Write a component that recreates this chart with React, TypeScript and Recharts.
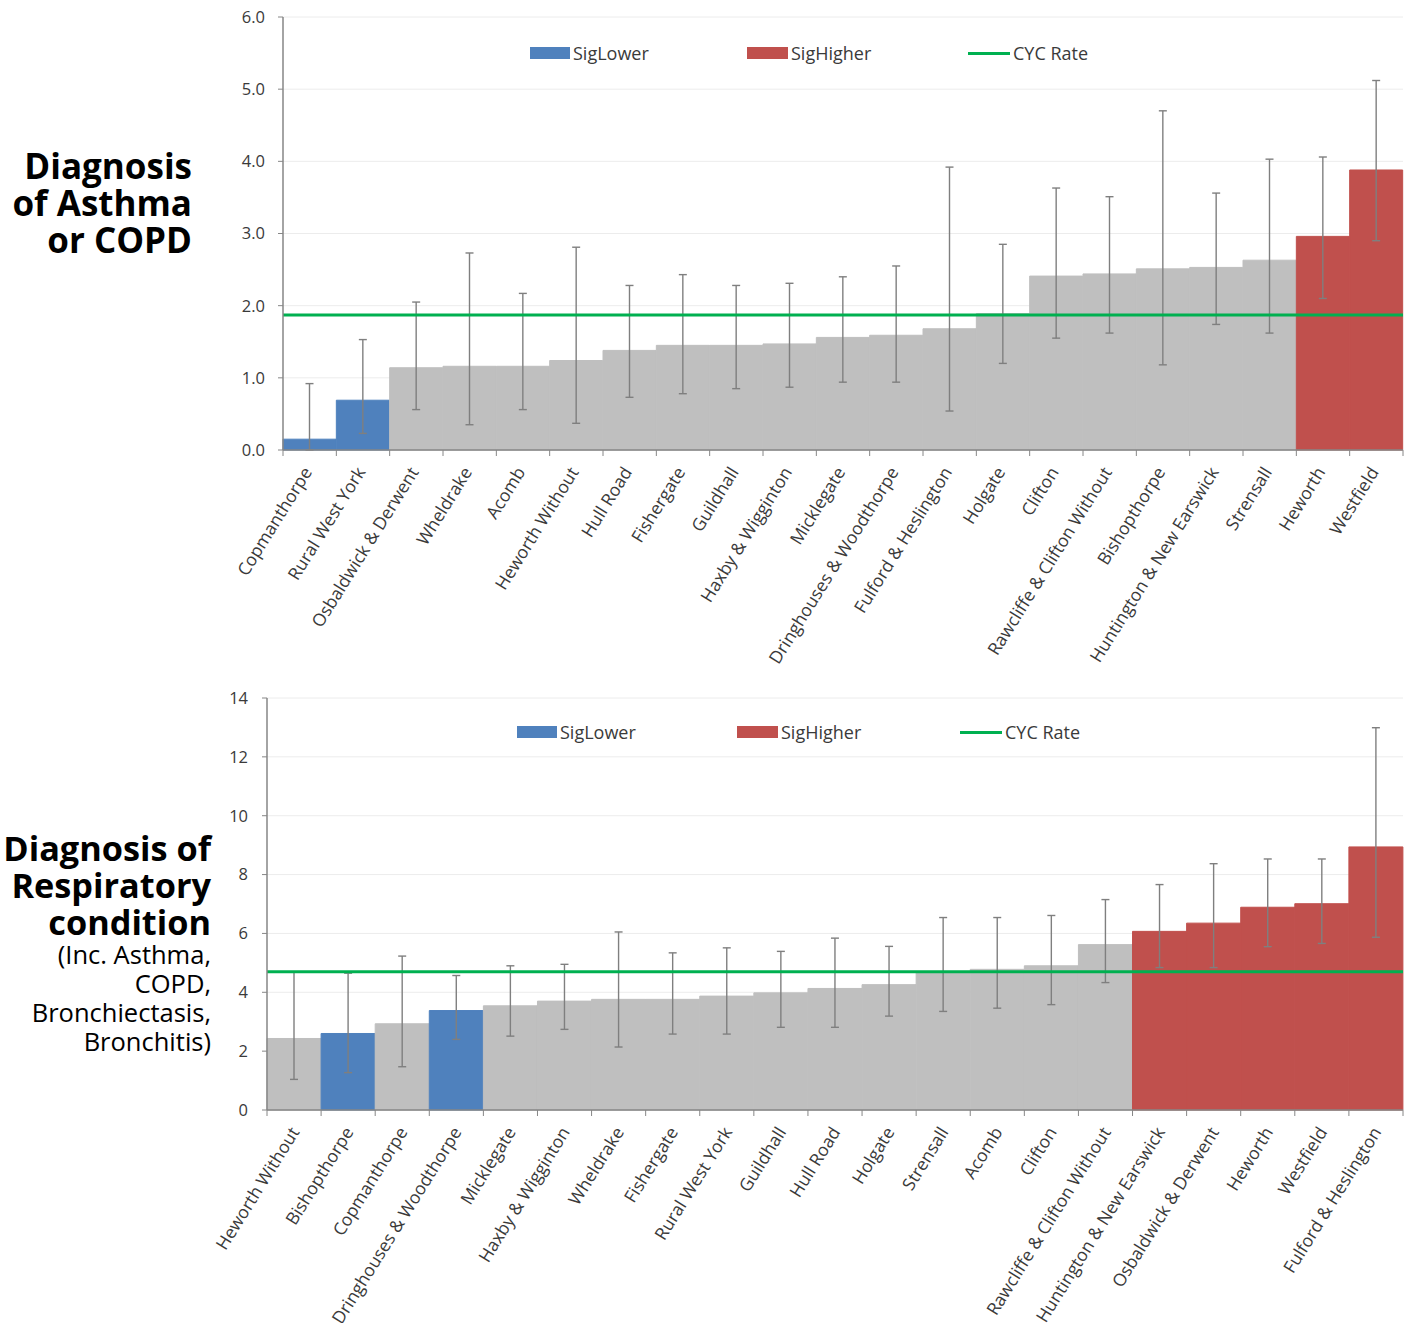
import React from 'react';
import { ComposedChart, Bar, Cell, ErrorBar, XAxis, YAxis, CartesianGrid, ReferenceLine } from 'recharts';

const FONT = '"Open Sans", "Noto Sans", sans-serif';

// ---- Chart 1: Diagnosis of Asthma or COPD ----
const asthmaCategories = [
  'Copmanthorpe', 'Rural West York', 'Osbaldwick & Derwent', 'Wheldrake', 'Acomb',
  'Heworth Without', 'Hull Road', 'Fishergate', 'Guildhall', 'Haxby & Wigginton',
  'Micklegate', 'Dringhouses & Woodthorpe', 'Fulford & Heslington', 'Holgate', 'Clifton',
  'Rawcliffe & Clifton Without', 'Bishopthorpe', 'Huntington & New Earswick', 'Strensall',
  'Heworth', 'Westfield',
];
const asthmaValues = [0.15, 0.69, 1.14, 1.16, 1.16, 1.24, 1.38, 1.45, 1.45, 1.47, 1.56, 1.59, 1.68, 1.89, 2.41, 2.44, 2.51, 2.53, 2.63, 2.96, 3.88];
const asthmaLower = [0.0, 0.23, 0.56, 0.35, 0.56, 0.37, 0.73, 0.78, 0.85, 0.87, 0.94, 0.94, 0.54, 1.2, 1.55, 1.62, 1.18, 1.74, 1.62, 2.1, 2.9];
const asthmaUpper = [0.92, 1.53, 2.05, 2.73, 2.17, 2.81, 2.28, 2.43, 2.28, 2.31, 2.4, 2.55, 3.92, 2.85, 3.63, 3.51, 4.7, 3.56, 4.03, 4.06, 5.12];
const asthmaStatus = ['L', 'L', 'N', 'N', 'N', 'N', 'N', 'N', 'N', 'N', 'N', 'N', 'N', 'N', 'N', 'N', 'N', 'N', 'N', 'H', 'H'];
const asthmaRate = 1.87;
const asthmaTicks = [0, 1, 2, 3, 4, 5, 6];

// ---- Chart 2: Diagnosis of Respiratory condition ----
const respCategories = [
  'Heworth Without', 'Bishopthorpe', 'Copmanthorpe', 'Dringhouses & Woodthorpe', 'Micklegate',
  'Haxby & Wigginton', 'Wheldrake', 'Fishergate', 'Rural West York', 'Guildhall',
  'Hull Road', 'Holgate', 'Strensall', 'Acomb', 'Clifton',
  'Rawcliffe & Clifton Without', 'Huntington & New Earswick', 'Osbaldwick & Derwent', 'Heworth',
  'Westfield', 'Fulford & Heslington',
];
const respValues = [2.43, 2.6, 2.93, 3.38, 3.54, 3.7, 3.76, 3.76, 3.87, 3.98, 4.13, 4.26, 4.66, 4.78, 4.9, 5.62, 6.07, 6.35, 6.89, 7.01, 8.94];
const respLower = [1.04, 1.27, 1.47, 2.4, 2.51, 2.74, 2.14, 2.58, 2.58, 2.81, 2.81, 3.19, 3.35, 3.46, 3.58, 4.33, 4.84, 4.84, 5.55, 5.66, 5.87];
const respUpper = [4.69, 4.65, 5.23, 4.57, 4.9, 4.95, 6.05, 5.34, 5.51, 5.39, 5.84, 5.56, 6.54, 6.54, 6.61, 7.15, 7.66, 8.37, 8.53, 8.53, 12.99];
const respStatus = ['N', 'L', 'N', 'L', 'N', 'N', 'N', 'N', 'N', 'N', 'N', 'N', 'N', 'N', 'N', 'N', 'H', 'H', 'H', 'H', 'H'];
const respRate = 4.7;
const respTicks = [0, 2, 4, 6, 8, 10, 12, 14];

const legendLabels = ['SigLower', 'SigHigher', 'CYC Rate'];

const COLORS: Record<string, string> = { N: '#BFBFBF', L: '#4F81BD', H: '#C0504D' };
const RATE_COLOR = '#00B050';
const AXIS_COLOR = '#868686';
const TEXT_COLOR = '#3a3a3a';

function buildRows(cats: string[], vals: number[], lo: number[], hi: number[], status: string[]) {
  return cats.map((name, i) => ({
    name,
    value: vals[i],
    err: [vals[i] - lo[i], hi[i] - vals[i]],
    status: status[i],
  }));
}

function makeTick(half: number, count: number, angle: number, dx: number, dy: number) {
  return function Tick(props: any) {
    const { x, y, payload, index } = props;
    const ax = x + dx;
    const ay = y + dy;
    return (
      <g>
        <line x1={x - half} x2={x - half} y1={y} y2={y + 6} stroke={AXIS_COLOR} strokeWidth={1} />
        {index === count - 1 && (
          <line x1={x + half} x2={x + half} y1={y} y2={y + 6} stroke={AXIS_COLOR} strokeWidth={1} />
        )}
        <text
          x={ax}
          y={ay}
          textAnchor="end"
          transform={`rotate(${angle}, ${ax}, ${ay})`}
          fontSize={17.5}
          fill={TEXT_COLOR}
          fontFamily={FONT}
        >
          {payload.value}
        </text>
      </g>
    );
  };
}

type ChartProps = {
  rows: any[];
  ticks: number[];
  rate: number;
  width: number;
  height: number;
  plotLeft: number;
  plotRight: number;
  marginTop: number;
  xAxisHeight: number;
  decimals: number;
  yTickMargin: number;
  labelDx: number;
  labelDy: number;
};

function RateChart(p: ChartProps) {
  const plotWidth = p.width - p.plotLeft - p.plotRight;
  const half = plotWidth / p.rows.length / 2;
  const Tick = makeTick(half, p.rows.length, -58, p.labelDx, p.labelDy);
  return (
    <ComposedChart
      width={p.width}
      height={p.height}
      data={p.rows}
      margin={{ top: p.marginTop, right: p.plotRight, left: 0, bottom: 0 }}
      barCategoryGap={0}
      barGap={0}
    >
      <CartesianGrid vertical={false} stroke="#ececec" strokeWidth={1} />
      <XAxis
        dataKey="name"
        interval={0}
        height={p.xAxisHeight}
        tickLine={false}
        tickSize={0}
        tickMargin={0}
        axisLine={{ stroke: AXIS_COLOR, strokeWidth: 1.5 }}
        tick={<Tick />}
      />
      <YAxis
        width={p.plotLeft}
        domain={[p.ticks[0], p.ticks[p.ticks.length - 1]]}
        ticks={p.ticks}
        interval={0}
        tickFormatter={(v: number) => v.toFixed(p.decimals)}
        tickSize={5}
        tickMargin={p.yTickMargin}
        tickLine={{ stroke: AXIS_COLOR }}
        axisLine={{ stroke: AXIS_COLOR, strokeWidth: 1.5 }}
        tick={{ fontSize: 16.5, fill: TEXT_COLOR, fontFamily: FONT }}
      />
      <Bar dataKey="value" isAnimationActive={false}>
        {p.rows.map((r, i) => (
          <Cell key={i} fill={COLORS[r.status]} stroke={COLORS[r.status]} strokeWidth={1} />
        ))}
        <ErrorBar dataKey="err" width={4} stroke="#7f7f7f" strokeWidth={1.4} direction="y" />
      </Bar>
      <ReferenceLine y={p.rate} stroke={RATE_COLOR} strokeWidth={3} />
    </ComposedChart>
  );
}

function LegendRow({ y, xs }: { y: number; xs: number[] }) {
  const textStyle: React.CSSProperties = {
    position: 'absolute',
    top: y - 13,
    fontSize: 18,
    lineHeight: '26px',
    fontFamily: FONT,
    color: TEXT_COLOR,
    whiteSpace: 'nowrap',
  };
  return (
    <>
      <div style={{ position: 'absolute', left: xs[0], top: y - 6, width: 40, height: 12, background: COLORS.L }} />
      <div style={{ ...textStyle, left: xs[0] + 43 }}>{legendLabels[0]}</div>
      <div style={{ position: 'absolute', left: xs[1], top: y - 6, width: 41, height: 12, background: COLORS.H }} />
      <div style={{ ...textStyle, left: xs[1] + 44 }}>{legendLabels[1]}</div>
      <div style={{ position: 'absolute', left: xs[2], top: y - 1.5, width: 42, height: 3, background: RATE_COLOR }} />
      <div style={{ ...textStyle, left: xs[2] + 45 }}>{legendLabels[2]}</div>
    </>
  );
}

export default function App() {
  const asthmaRows = buildRows(asthmaCategories, asthmaValues, asthmaLower, asthmaUpper, asthmaStatus);
  const respRows = buildRows(respCategories, respValues, respLower, respUpper, respStatus);

  const titleBold: React.CSSProperties = {
    fontFamily: FONT,
    fontWeight: 700,
    fontSize: 35,
    lineHeight: '37px',
    color: '#000',
  };
  const titleReg: React.CSSProperties = {
    fontFamily: FONT,
    fontWeight: 400,
    fontSize: 25.5,
    lineHeight: '29px',
    color: '#000',
  };

  return (
    <div style={{ position: 'absolute', left: 0, top: 0, width: 1415, height: 1323, background: '#fff', overflow: 'hidden' }}>
      <div style={{ position: 'absolute', left: 0, top: 0 }}>
        <RateChart
          rows={asthmaRows}
          ticks={asthmaTicks}
          rate={asthmaRate}
          width={1415}
          height={680}
          plotLeft={283}
          plotRight={12}
          marginTop={17}
          xAxisHeight={230}
          decimals={1}
          yTickMargin={13}
          labelDx={3}
          labelDy={22}
        />
      </div>
      <div style={{ position: 'absolute', left: 0, top: 680 }}>
        <RateChart
          rows={respRows}
          ticks={respTicks}
          rate={respRate}
          width={1415}
          height={643}
          plotLeft={267}
          plotRight={12}
          marginTop={18}
          xAxisHeight={213}
          decimals={0}
          yTickMargin={14}
          labelDx={6}
          labelDy={22}
        />
      </div>

      <LegendRow y={53} xs={[530, 747, 968]} />
      <LegendRow y={732} xs={[517, 737, 960]} />

      <div style={{ position: 'absolute', left: 0, top: 147, width: 192, textAlign: 'right', ...titleBold }}>
        Diagnosis<br />of Asthma<br />or COPD
      </div>
      <div style={{ position: 'absolute', left: 0, top: 829, width: 211, textAlign: 'right' }}>
        <div style={{ ...titleBold, fontSize: 34.3 }}>
          Diagnosis of<br />Respiratory<br />condition
        </div>
        <div style={titleReg}>
          (Inc. Asthma,<br />COPD,<br />Bronchiectasis,<br />Bronchitis)
        </div>
      </div>
    </div>
  );
}
